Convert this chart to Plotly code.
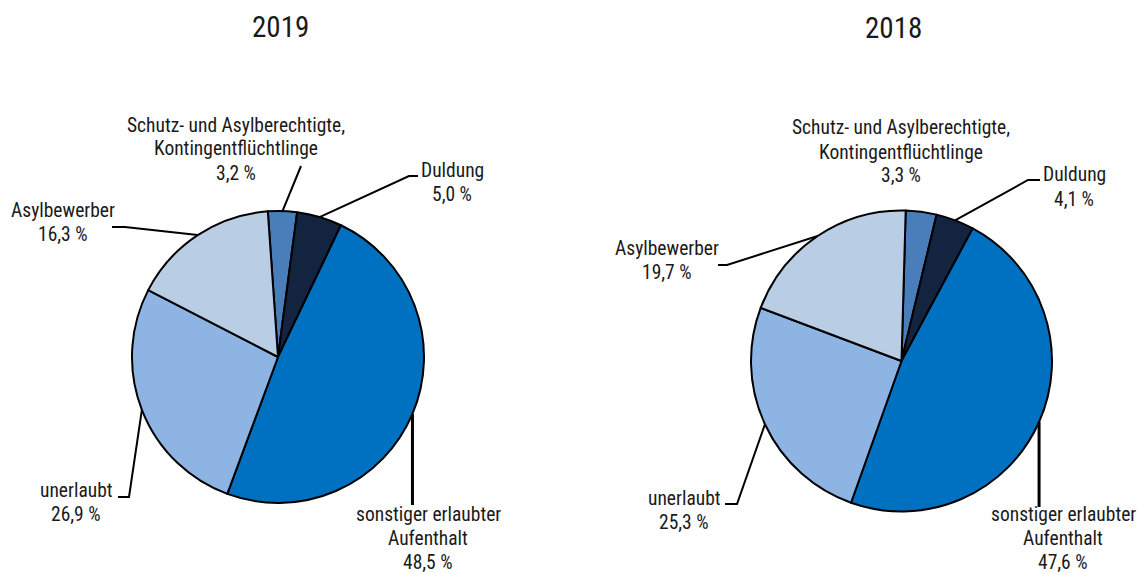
import math
import plotly.graph_objects as go

# ---- data ----
categories = ["Schutz- und Asylberechtigte,<br>Kontingentflüchtlinge", "Duldung",
              "sonstiger erlaubter<br>Aufenthalt", "unerlaubt", "Asylbewerber"]
label_lines = [["Schutz- und Asylberechtigte,", "Kontingentflüchtlinge"], ["Duldung"],
               ["sonstiger erlaubter", "Aufenthalt"], ["unerlaubt"], ["Asylbewerber"]]
values_2019 = [3.2, 5.0, 48.5, 26.9, 16.3]
values_2018 = [3.3, 4.1, 47.6, 25.3, 19.7]
years = ["2019", "2018"]
colors = ["#4a7ebb", "#12243f", "#0070c0", "#8eb4e3", "#b9cde5"]

W, H = 1137, 573
FONT = "Liberation Sans Narrow, Arial Narrow, Roboto Condensed, DejaVu Sans Condensed, sans-serif"
TXT = "#1a1a1a"

# pie geometry (pixels): center x, center y, radius, rotation
pies = [
    dict(year="2019", values=values_2019, cx=278, cy=357, r=146, rot=-4, title_x=280, title_y=27),
    dict(year="2018", values=values_2018, cx=901.5, cy=361, r=150.5, rot=1.6, title_x=893, title_y=28),
]

# label layout per pie: text center x, first line center y, leader elbows, line width
label_layout = [
    [  # 2019
        dict(x=236, y=125, path=[(301, 166)], w=2),
        dict(x=452, y=170, path=[(409, 176), (418, 176)], w=2),
        dict(x=428, y=514, path=["down", 505], w=3),
        dict(x=76, y=490, path=[(129, 497), (118, 497)], w=2),
        dict(x=63, y=210, path=[(125, 227), (112, 227)], w=2),
    ],
    [  # 2018
        dict(x=901, y=128, path=None, w=2),
        dict(x=1074, y=175, path=[(1028, 180), (1040, 180)], w=2),
        dict(x=1063, y=514, path=["down", 507], w=3),
        dict(x=684, y=498, path=[(737, 504), (725, 504)], w=2),
        dict(x=667, y=248, path=[(727, 265), (718, 265)], w=2),
    ],
]
LINE_GAP = 24.0


def px(x):
    return x / W


def py(y):
    return 1 - y / H


fig = go.Figure()
shapes = []
annotations = []

for pi, p in enumerate(pies):
    fig.add_trace(go.Pie(
        labels=categories, values=p["values"], sort=False, direction="clockwise",
        rotation=p["rot"], textinfo="none", hoverinfo="label+value",
        marker=dict(colors=colors, line=dict(color="black", width=2)),
        domain=dict(x=[px(p["cx"] - p["r"]), px(p["cx"] + p["r"])],
                    y=[py(p["cy"] + p["r"]), py(p["cy"] - p["r"])]),
        showlegend=False,
    ))
    annotations.append(dict(text=p["year"], x=px(p["title_x"]), y=py(p["title_y"]),
                            xref="paper", yref="paper", showarrow=False,
                            xanchor="center", yanchor="middle",
                            font=dict(family=FONT, size=29, color=TXT)))
    total = sum(p["values"])
    cum = 0.0
    for i, v in enumerate(p["values"]):
        mid = (cum + v / 2) / total
        cum += v
        ang = math.radians(p["rot"] + 360 * mid)
        ex = p["cx"] + p["r"] * math.sin(ang)
        ey = p["cy"] - p["r"] * math.cos(ang)
        lay = label_layout[pi][i]
        if lay["path"] is not None:
            if lay["path"][0] == "down":
                pts = [(ex, ey), (ex, lay["path"][1])]
            else:
                pts = [(ex, ey)] + lay["path"]
            d = "M " + " L ".join(f"{px(a)},{py(b)}" for a, b in pts)
            shapes.append(dict(type="path", path=d, xref="paper", yref="paper",
                               line=dict(color="black", width=lay["w"]), layer="above"))
        lines = label_lines[i] + [f"{v:.1f}".replace(".", ",") + " %"]
        for k, t in enumerate(lines):
            annotations.append(dict(text=t, x=px(lay["x"]), y=py(lay["y"] + k * LINE_GAP),
                                    xref="paper", yref="paper", showarrow=False,
                                    xanchor="center", yanchor="middle",
                                    font=dict(family=FONT, size=19.5, color=TXT)))

fig.update_layout(
    width=W, height=H, margin=dict(l=0, r=0, t=0, b=0),
    paper_bgcolor="white", plot_bgcolor="white",
    shapes=shapes, annotations=annotations,
)
fig.write_html("out.html", config={"displayModeBar": False},
               post_script="document.body.style.margin='0';document.body.style.padding='0';"
                           "document.documentElement.style.overflow='hidden';")
